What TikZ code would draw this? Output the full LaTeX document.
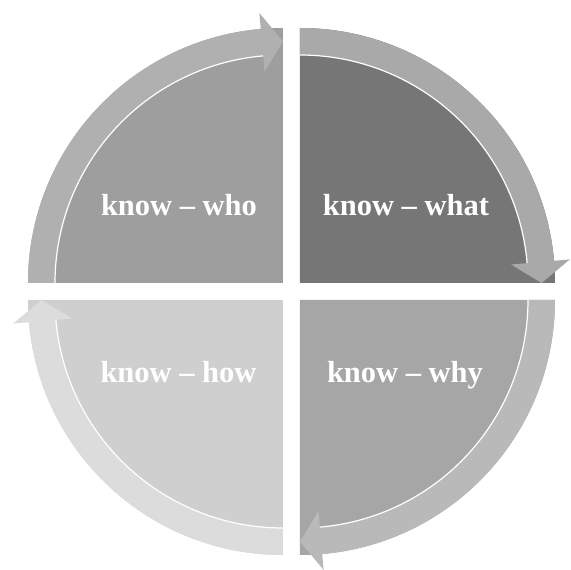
\documentclass[tikz,border=0pt]{standalone}
\usepackage{fontspec}
\setmainfont{Liberation Serif}
\usetikzlibrary{positioning}
\definecolor{whoin}{HTML}{9E9E9E}
\definecolor{whoband}{HTML}{B0B0B0}
\definecolor{whatin}{HTML}{767676}
\definecolor{whatband}{HTML}{A9A9A9}
\definecolor{whyin}{HTML}{A6A6A6}
\definecolor{whyband}{HTML}{B9B9B9}
\definecolor{howin}{HTML}{CFCFCF}
\definecolor{howband}{HTML}{DCDCDC}

\begin{document}
\begin{tikzpicture}[x=1pt,y=1pt,
 every node/.style={font=\fontsize{30.5}{36}\selectfont\bfseries},
 lbl/.style={text=white,anchor=base,inner sep=0pt},
 edge/.style={draw=white,line width=1.2pt}]
\useasboundingbox (-291.5,-278.5) rectangle (279.5,291.5);
% know - who
\begin{scope}[shift={(-8.5,8.5)}]
\fill[whoin] (0,0) -- (180:255) arc[start angle=180,end angle=90,radius=255] -- cycle;
\fill[whoband] (180:255) arc[start angle=180,end angle=95,radius=255] -- (95:271) -- (90:241.5) -- (95:212) -- (95:228) arc[start angle=95,end angle=180,radius=228] -- cycle;
\draw[edge] (95:228) arc[start angle=95,end angle=180,radius=228];
\end{scope}
% know - what
\begin{scope}[shift={(8.5,8.5)}]
\fill[whatin] (0,0) -- (90:255) arc[start angle=90,end angle=0,radius=255] -- cycle;
\fill[whatband] (90:255) arc[start angle=90,end angle=5,radius=255] -- (5:271) -- (0:241.5) -- (5:212) -- (5:228) arc[start angle=5,end angle=90,radius=228] -- cycle;
\draw[edge] (5:228) arc[start angle=5,end angle=90,radius=228];
\end{scope}
% know - why
\begin{scope}[shift={(8.5,-8.5)}]
\fill[whyin] (0,0) -- (0:255) arc[start angle=0,end angle=-90,radius=255] -- cycle;
\fill[whyband] (0:255) arc[start angle=0,end angle=-85,radius=255] -- (-85:271) -- (-90:241.5) -- (-85:212) -- (-85:228) arc[start angle=-85,end angle=0,radius=228] -- cycle;
\draw[edge] (-85:228) arc[start angle=-85,end angle=0,radius=228];
\end{scope}
% know - how
\begin{scope}[shift={(-8.5,-8.5)}]
\fill[howin] (0,0) -- (270:255) arc[start angle=270,end angle=180,radius=255] -- cycle;
\fill[howband] (270:255) arc[start angle=270,end angle=185,radius=255] -- (185:271) -- (180:241.5) -- (185:212) -- (185:228) arc[start angle=185,end angle=270,radius=228] -- cycle;
\draw[edge] (185:228) arc[start angle=185,end angle=270,radius=228];
\end{scope}
\node[lbl] (who) at (-112.5,75.5) {know – who};
\node[lbl] (what) at (114.5,75.5) {know – what};
\node[lbl] (how) at (-113,-91.5) {know – how};
\node[lbl] (why) at (113.5,-91.5) {know – why};
\end{tikzpicture}
\end{document}
